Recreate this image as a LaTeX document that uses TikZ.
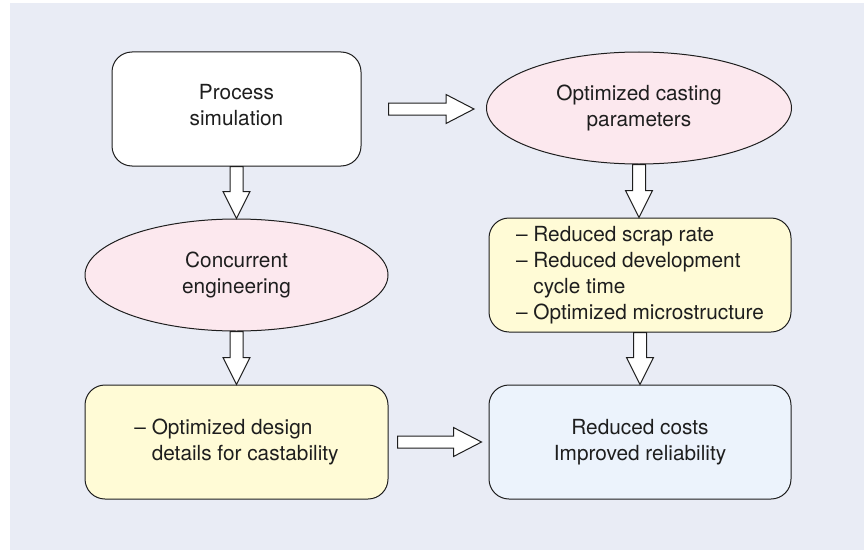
\documentclass[tikz,border=0pt]{standalone}
\usepackage{fontspec}
\setmainfont{TeX Gyre Heros}
\usetikzlibrary{shapes.geometric,calc}
\definecolor{panel}{HTML}{E9ECF5}
\definecolor{pinkfill}{HTML}{FCE8EE}
\definecolor{yellowfill}{HTML}{FFFBD6}
\definecolor{bluefill}{HTML}{ECF3FC}
\definecolor{ink}{HTML}{1E1E1E}

% vertical block arrow from the bottom of #1 to the top of #2
\newcommand\blockdown[2]{%
  \draw[blockarrow] let \p1=(#1.south), \p2=(#2.north) in
    (\x1-6.5pt,\y1) -- (\x1-6.5pt,\y2+27pt) -- (\x1-13.5pt,\y2+27pt)
    -- (\x1,\y2) -- (\x1+13.5pt,\y2+27pt) -- (\x1+6.5pt,\y2+27pt)
    -- (\x1+6.5pt,\y1) -- cycle;}
% horizontal block arrow from coordinate #1 to tip coordinate #2
\newcommand\blockright[2]{%
  \draw[blockarrow] let \p1=(#1), \p2=(#2) in
    (\x1,\y1+6pt) -- (\x2-28pt,\y1+6pt) -- (\x2-28pt,\y1+14.5pt)
    -- (\x2,\y1) -- (\x2-28pt,\y1-14.5pt) -- (\x2-28pt,\y1-6pt)
    -- (\x1,\y1-6pt) -- cycle;}

\begin{document}
\begin{tikzpicture}[x=1pt,y=-1pt,
  font=\fontsize{20.8}{26}\selectfont,
  every node/.style={text=ink},
  roundbox/.style={draw=ink, line width=1pt, rounded corners=20pt,
    minimum width=302pt, minimum height=114pt, inner sep=0pt, align=center},
  oval/.style={draw=ink, line width=1pt, ellipse, fill=pinkfill,
    minimum width=305pt, minimum height=112pt, inner sep=0pt, align=center},
  blockarrow/.style={draw=ink, fill=white, line width=1pt, line join=miter}]
\useasboundingbox (0,0) rectangle (864,551);
\fill[white] (0,0) rectangle (864,551);
\fill[panel] (10,3) rectangle (864,550);

\node[roundbox, fill=white, minimum width=249pt, text depth=9pt] (ps) at (236.5,109) {Process\\simulation};
\node[oval] (ocp) at (639,108) {Optimized casting\\parameters};
\node[oval, minimum width=303pt] (ce) at (236.5,275) {Concurrent\\engineering};
\node[roundbox, fill=yellowfill, align=left] (res) at (640,275)
  {– Reduced scrap rate\\– Reduced development\\\phantom{– }cycle time\\– Optimized microstructure};
\node[roundbox, fill=yellowfill, align=left, minimum width=303pt] (des) at (236.5,442)
  {– Optimized design\\\phantom{– }details for castability};
\node[roundbox, fill=bluefill] (rc) at (640,442) {Reduced costs\\Improved reliability};

\coordinate (h1s) at ($(ps.east)+(27,0)$);
\coordinate (h1e) at ($(ocp.west)+(-12,0)$);
\coordinate (h2s) at ($(des.east)+(9,0)$);
\coordinate (h2e) at ($(rc.west)+(-7,0)$);

\blockright{h1s}{h1e}
\blockright{h2s}{h2e}
\blockdown{ps}{ce}
\blockdown{ce}{des}
\blockdown{ocp}{res}
\blockdown{res}{rc}
\end{tikzpicture}
\end{document}
